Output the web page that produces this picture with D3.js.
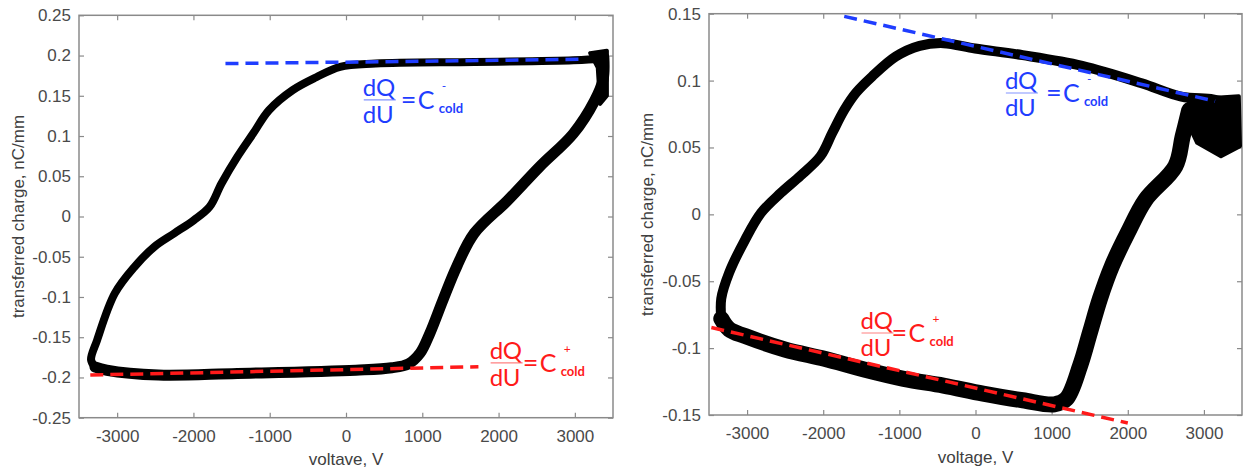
<!DOCTYPE html>
<html>
<head>
<meta charset="utf-8">
<script src="https://cdn.jsdelivr.net/npm/d3@7"></script>
<style>
  html, body { margin: 0; padding: 0; background: #fff; }
  svg { display: block; }
</style>
</head>
<body>
<svg id="chart" width="1249" height="468"></svg>
<script>
// ---------------- DATA ----------------
const xTicks = [-3000, -2000, -1000, 0, 1000, 2000, 3000];
const leftYTicks = [-0.25, -0.2, -0.15, -0.1, -0.05, 0, 0.05, 0.1, 0.15, 0.2, 0.25];
const rightYTicks = [-0.15, -0.1, -0.05, 0, 0.05, 0.1, 0.15];
const leftXLabel = "voltave, V";
const rightXLabel = "voltage, V";
const yLabel = "transferred charge, nC/mm";

// Left panel: ascending branch (lower-left corner -> top -> top-right)
const leftUpV = [-3290, -3342, -3264, -3031, -2772, -2513, -2254, -1995, -1788, -1632, -1425, -1218, -1010, -699, -389, -78, 389, 1684, 2979, 3290, 3380];
const leftUpQ = [-0.187, -0.178, -0.154, -0.0956, -0.0625, -0.0377, -0.0211, -0.0046, 0.012, 0.041, 0.074, 0.103, 0.132, 0.157, 0.173, 0.186, 0.190, 0.192, 0.194, 0.196, 0.198];
// Left panel: descending branch (top-right -> bottom -> lower-left)
const leftDownV = [3380, 3370, 3260, 2980, 2540, 2120, 1680, 1450, 1270, 1100, 970, 820, 600, 130, -1425, -2461, -3135, -3290];
const leftDownQ = [0.198, 0.17, 0.144, 0.103, 0.062, 0.020, -0.021, -0.0625, -0.104, -0.145, -0.170, -0.183, -0.188, -0.191, -0.195, -0.197, -0.191, -0.187];
// Left panel: turning-point cluster
const leftClusterV = [3200, 3420, 3420, 3330, 3300];
const leftClusterQ = [0.203, 0.206, 0.150, 0.140, 0.185];
// Left panel: fitted slopes
const leftFitMinusV = [-1580, 3109];
const leftFitMinusQ = [0.190, 0.1954];
const leftFitPlusV = [-3352, 1736];
const leftFitPlusQ = [-0.197, -0.1867];

// Right panel
const rightUpV = [-3339, -3339, -3234, -3026, -2818, -2557, -2297, -2036, -1880, -1724, -1568, -1359, -1047, -734, -422, -5, 620, 1401, 2182, 2703, 3120, 3330];
const rightUpQ = [-0.078, -0.063, -0.0435, -0.019, 0.001, 0.016, 0.029, 0.0435, 0.061, 0.078, 0.091, 0.103, 0.118, 0.126, 0.128, 0.124, 0.119, 0.111, 0.098, 0.088, 0.086, 0.083];
const rightDownV = [2807, 2720, 2625, 2234, 2000, 1792, 1635, 1505, 1375, 1193, 1036, 620, 99, -422, -943, -1464, -1984, -2505, -3026, -3234, -3339];
const rightDownQ = [0.078, 0.058, 0.036, 0.011, -0.0137, -0.0386, -0.063, -0.088, -0.113, -0.138, -0.142, -0.139, -0.134, -0.128, -0.123, -0.116, -0.108, -0.101, -0.091, -0.086, -0.078];
const rightClusterV = [2807, 3458, 3474, 3224, 2911, 2807];
const rightClusterQ = [0.0858, 0.0883, 0.051, 0.0435, 0.0535, 0.066];
const rightFitMinusV = [-1724, 3146];
const rightFitMinusQ = [0.148, 0.0846];
const rightFitPlusV = [-3469, 2000];
const rightFitPlusQ = [-0.0846, -0.156];

// Annotation anchors (start of fraction bar), in data units
const leftNoteMinus = { v: 220, q: 0.145, sign: "-" };
const leftNotePlus = { v: 1883, q: -0.182, sign: "+" };
const rightNoteMinus = { v: 386, q: 0.0907, sign: "-" };
const rightNotePlus = { v: -1510, q: -0.0887, sign: "+" };

// ---------------- DRAWING ----------------
const svg = d3.select("#chart");
const BLUE = "#1f3dff", RED = "#ff1a1a";
const TICKFONT = "'Liberation Sans', Arial, sans-serif";

function fmt(v) { return String(+v.toFixed(2)); }

function panel(cfg) {
  const x = d3.scaleLinear().domain([-3500, 3500]).range([cfg.x0, cfg.x1]);
  const y = d3.scaleLinear().domain(cfg.yDomain).range([cfg.y1, cfg.y0]);
  const g = svg.append("g");

  // axes (ticks inward on all four sides)
  const ax = [
    [d3.axisBottom(x).tickValues(xTicks).tickFormat(d => String(d)).tickSize(-5).tickPadding(12), `translate(0,${cfg.y1})`],
    [d3.axisTop(x).tickValues(xTicks).tickFormat("").tickSize(-5), `translate(0,${cfg.y0})`],
    [d3.axisLeft(y).tickValues(cfg.yTicks).tickFormat(fmt).tickSize(-5).tickPadding(8), `translate(${cfg.x0},0)`],
    [d3.axisRight(y).tickValues(cfg.yTicks).tickFormat("").tickSize(-5), `translate(${cfg.x1},0)`]
  ];
  ax.forEach(([a, t]) => {
    const ag = g.append("g").attr("transform", t).call(a);
    ag.select(".domain").remove();
    ag.selectAll("line").attr("stroke", "#8a8a8a").attr("stroke-width", 1.2);
    ag.selectAll("text").attr("fill", "#4a4a4a").style("font-family", TICKFONT).style("font-size", "17px");
  });
  g.append("rect").attr("x", cfg.x0).attr("y", cfg.y0)
    .attr("width", cfg.x1 - cfg.x0).attr("height", cfg.y1 - cfg.y0)
    .attr("fill", "none").attr("stroke", "#8a8a8a").attr("stroke-width", 1.5);

  // axis labels
  g.append("text").attr("x", (cfg.x0 + cfg.x1) / 2).attr("y", cfg.xlabY)
    .attr("text-anchor", "middle").attr("fill", "#404040")
    .style("font-family", TICKFONT).style("font-size", "17px").text(cfg.xLabel);
  g.append("text").attr("transform", `translate(${cfg.ylabX},${(cfg.y0 + cfg.y1) / 2}) rotate(-90)`)
    .attr("text-anchor", "middle").attr("fill", "#404040")
    .style("font-family", TICKFONT).style("font-size", "17px").text(yLabel);

  // loop
  const line = d3.line().x(d => x(d[0])).y(d => y(d[1])).curve(d3.curveCatmullRom);
  const zip = (a, b) => a.map((v, i) => [v, b[i]]);
  g.append("path").attr("d", line(zip(cfg.upV, cfg.upQ)))
    .attr("fill", "none").attr("stroke", "#000").attr("stroke-width", cfg.upW)
    .attr("stroke-linejoin", "round").attr("stroke-linecap", "round");
  g.append("path").attr("d", line(zip(cfg.downV, cfg.downQ)))
    .attr("fill", "none").attr("stroke", "#000").attr("stroke-width", cfg.downW)
    .attr("stroke-linejoin", "round").attr("stroke-linecap", "round");
  g.append("path").attr("d", d3.line().x(d => x(d[0])).y(d => y(d[1])).curve(d3.curveLinearClosed)(zip(cfg.clV, cfg.clQ)))
    .attr("fill", "#000").attr("stroke", "#000").attr("stroke-width", 4).attr("stroke-linejoin", "round");

  // fit lines
  const fitLine = d3.line().x(d => x(d[0])).y(d => y(d[1]));
  [[cfg.fmV, cfg.fmQ, BLUE], [cfg.fpV, cfg.fpQ, RED]].forEach(([vv, qq, c]) => {
    g.append("path").attr("d", fitLine(zip(vv, qq)))
      .attr("fill", "none").attr("stroke", c).attr("stroke-width", 3.5)
      .attr("stroke-dasharray", "13,7");
  });

  // annotations
  [[cfg.noteM, BLUE, cfg.gapM], [cfg.noteP, RED, cfg.gapP]].forEach(([n, c, gap]) => {
    const bx = x(n.v), by = y(n.q);
    const ng = g.append("g").attr("fill", c).style("font-family", "Lato, 'Open Sans', sans-serif");
    ng.append("text").attr("x", bx).attr("y", by - 4).style("font-size", "24px").text("dQ");
    ng.append("line").attr("x1", bx + 1).attr("x2", bx + 33).attr("y1", by).attr("y2", by)
      .attr("stroke", c).attr("stroke-width", 1.2).attr("opacity", 0.55);
    ng.append("text").attr("x", bx).attr("y", by + 23).style("font-size", "24px").text("dU");
    ng.append("text").attr("x", bx + gap - 17).attr("y", by + 9).style("font-size", "27px").text("=");
    ng.append("text").attr("x", bx + gap).attr("y", by + 9).style("font-size", "25px").text("C");
    ng.append("text").attr("x", bx + gap + 21).attr("y", by + 13).style("font-size", "13px").style("font-weight", "bold").text("cold");
    ng.append("text").attr("x", bx + gap + 24).attr("y", by - 10).style("font-size", "12px").text(n.sign);
  });
}

panel({
  x0: 79, x1: 613, y0: 15.3, y1: 417.7, yDomain: [-0.25, 0.25], yTicks: leftYTicks,
  xLabel: leftXLabel, xlabY: 465, ylabX: 24,
  upV: leftUpV, upQ: leftUpQ, downV: leftDownV, downQ: leftDownQ, upW: 8, downW: 11,
  clV: leftClusterV, clQ: leftClusterQ,
  fmV: leftFitMinusV, fmQ: leftFitMinusQ, fpV: leftFitPlusV, fpQ: leftFitPlusQ,
  noteM: leftNoteMinus, noteP: leftNotePlus, gapM: 55, gapP: 50
});
panel({
  x0: 709, x1: 1242, y0: 13.7, y1: 415, yDomain: [-0.15, 0.15], yTicks: rightYTicks,
  xLabel: rightXLabel, xlabY: 463, ylabX: 653,
  upV: rightUpV, upQ: rightUpQ, downV: rightDownV, downQ: rightDownQ, upW: 10, downW: 16,
  clV: rightClusterV, clQ: rightClusterQ,
  fmV: rightFitMinusV, fmQ: rightFitMinusQ, fpV: rightFitPlusV, fpQ: rightFitPlusQ,
  noteM: rightNoteMinus, noteP: rightNotePlus, gapM: 58, gapP: 48
});
</script>
</body>
</html>
